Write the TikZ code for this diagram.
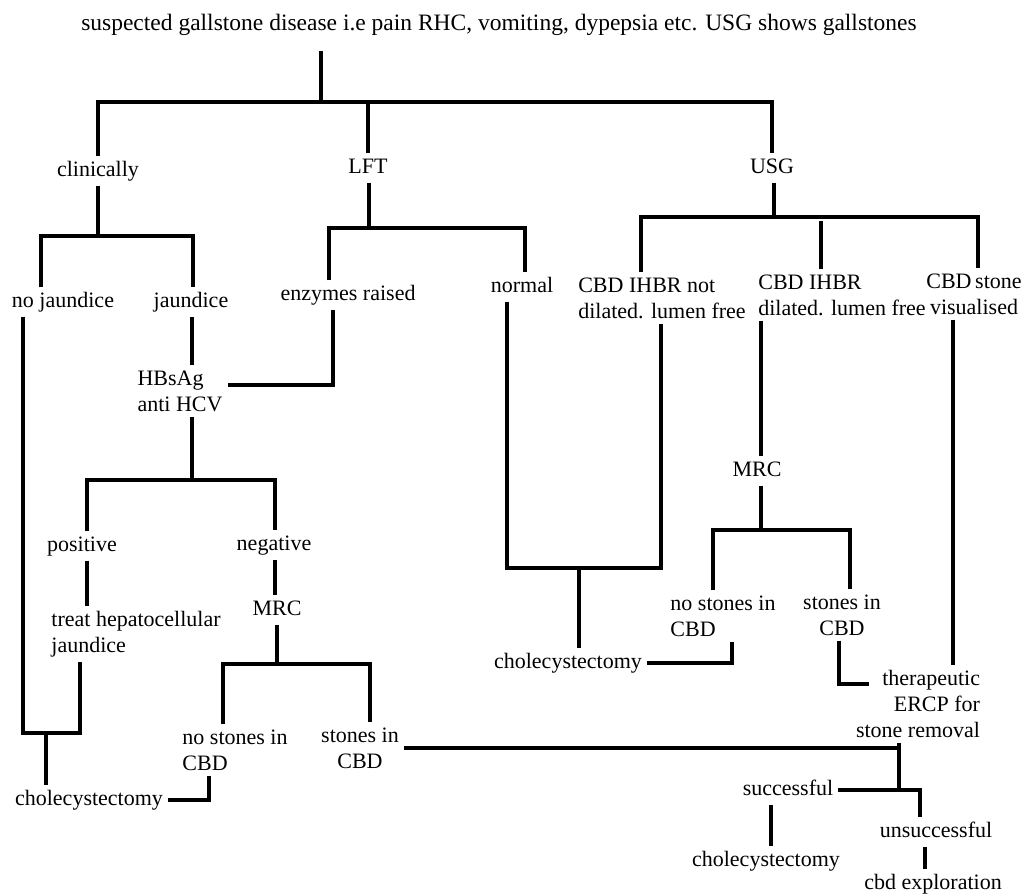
\documentclass[tikz,border=0pt]{standalone}
\usepackage{fontspec}
\setmainfont{Liberation Serif}
\usepackage{tikz}
\usepackage{xcolor}
\tikzset{
    flow-label/.style = {inner sep=5pt, text height=15pt, text depth=4pt, font=\fontsize{22}{26}\selectfont},
    flow-label-multi/.style = {inner sep=5pt, align=left, font=\fontsize{22}{26}\selectfont},
    flow-line/.style = {line width=3.5pt},
}

\begin{document}
\begin{tikzpicture}[x=1pt, y=-1pt]
\useasboundingbox (0,0) rectangle (1035,894);
\node[flow-label, font=\fontsize{23.5}{26}\selectfont] (title) at (499,25) {suspected gallstone disease i.e pain RHC, vomiting, dypepsia etc. USG shows gallstones};
\node[flow-label] (clin) at (98,171) {clinically};
\node[flow-label] (lft) at (368,168) {LFT};
\node[flow-label] (usg) at (772,168) {USG};
\node[flow-label] (nojaun) at (63,302) {no jaundice};
\node[flow-label] (jaun) at (191,302) {jaundice};
\node[flow-label] (enz) at (348,295) {enzymes raised};
\node[flow-label] (normal) at (522,287) {normal};
\node[flow-label-multi] (cbdnd) at (662,298) {CBD IHBR not\\dilated. lumen free};
\node[flow-label-multi] (cbdd) at (842,295) {CBD IHBR\\dilated. lumen free};
\node[flow-label-multi, align=center] (cbdst) at (974,294) {CBD\,stone\\visualised};
\node[flow-label-multi] (hbs) at (180,391) {HBsAg\\anti HCV};
\node[flow-label] (pos) at (82,546) {positive};
\node[flow-label] (neg) at (274,545) {negative};
\node[flow-label] (mrcl) at (277,610) {MRC};
\node[flow-label-multi] (treat) at (136,634) {treat hepatocellular\\jaundice};
\node[flow-label-multi] (nosl) at (235,750) {no stones in\\CBD};
\node[flow-label-multi, align=center] (stl) at (360,748) {stones in\\CBD};
\node[flow-label] (chola) at (89,800) {cholecystectomy};
\node[flow-label] (cholb) at (568,663) {cholecystectomy};
\node[flow-label] (mrcr) at (757,471) {MRC};
\node[flow-label-multi] (nosr) at (723,616) {no stones in\\CBD};
\node[flow-label-multi, align=center] (str) at (842,615) {stones in\\CBD};
\node[flow-label-multi, align=right] (ercp) at (918,704) {therapeutic\\ERCP for\\stone removal};
\node[flow-label] (succ) at (788,790) {successful};
\node[flow-label] (cholc) at (766,861) {cholecystectomy};
\node[flow-label] (unsucc) at (936,832) {unsuccessful};
\node[flow-label] (cbdex) at (933,884) {cbd exploration};

\coordinate (j0) at (321,102);
\coordinate (j1) at (98,236);
\coordinate (j2) at (369,228);
\coordinate (j3) at (774,217);
\coordinate (j4) at (192,480);
\coordinate (j5) at (46,733);
\coordinate (j6) at (277,664);
\coordinate (j7) at (899,790);
\coordinate (j8) at (579,568);
\coordinate (j9) at (761,530);
\coordinate (tj) at ([xshift=-56pt]treat.south);

\draw[flow-line] (j0) -- ++(0,-51);
\draw[flow-line] (clin.north) |- (j0) -| (usg.north);
\draw[flow-line] (lft.north) -- (lft.north |- j0);
\draw[flow-line] (clin.south) -- (j1);
\draw[flow-line] ([xshift=-22pt]nojaun.north) |- (j1) -| ([xshift=2pt]jaun.north);
\draw[flow-line] (lft.south -| j2) -- (j2);
\draw[flow-line] ([xshift=-19pt]enz.north) |- (j2) -| ([xshift=3pt]normal.north);
\draw[flow-line] (usg.south -| j3) -- (j3);
\draw[flow-line] ([xshift=-21pt]cbdnd.north) |- (j3) -| ([xshift=4pt]cbdst.north);
\draw[flow-line] ([xshift=-21pt]cbdd.north) -- ++(0,-48);
\draw[flow-line] (jaun.south -| j4) -- (j4 |- hbs.north);
\draw[flow-line] ([xshift=-15pt]enz.south) |- ([yshift=6pt]hbs.east);
\draw[flow-line] (hbs.south -| j4) -- (j4);
\draw[flow-line] ([xshift=5pt]pos.north) |- (j4) -| ([xshift=1pt]neg.north);
\draw[flow-line] ([xshift=5pt]pos.south) -- ([xshift=5pt]pos.south |- treat.north);
\draw[flow-line] ([xshift=1pt]neg.south) -- ([xshift=1pt]neg.south |- mrcl.north);
\draw[flow-line] ([xshift=-40pt]nojaun.south) |- (tj |- j5) -- (tj);
\draw[flow-line] (j5) -- (j5 |- chola.north);
\draw[flow-line] (mrcl.south) -- (j6);
\draw[flow-line] ([xshift=-12pt]nosl.north) |- (j6) -| ([xshift=10pt]stl.north);
\draw[flow-line] ([xshift=-26pt]nosl.south) |- (chola.east);
\draw[flow-line] (stl.east) -- (stl.east -| j7);
\draw[flow-line] (ercp.south -| j7) -- (j7);
\draw[flow-line] (succ.east) -| ([xshift=-16pt]unsucc.north);
\draw[flow-line] ([xshift=-17pt]succ.south) -- ([xshift=-17pt]succ.south |- cholc.north);
\draw[flow-line] ([xshift=-11pt]unsucc.south) -- ([xshift=-11pt]unsucc.south |- cbdex.north);
\draw[flow-line] ([xshift=-15pt]normal.south) |- (j8) -| ([xshift=-1pt]cbdnd.south);
\draw[flow-line] (j8) -- (j8 |- cholb.north);
\draw[flow-line] ([xshift=-81pt]cbdd.south) -- ([xshift=-81pt]cbdd.south |- mrcr.north);
\draw[flow-line] (mrcr.south -| j9) -- (j9);
\draw[flow-line] ([xshift=-10pt]nosr.north) |- (j9) -| ([xshift=8pt]str.north);
\draw[flow-line] ([xshift=9pt]nosr.south) |- (cholb.east);
\draw[flow-line] ([xshift=-3pt]str.south) |- ([xshift=-116pt,yshift=-19pt]ercp.north east);
\draw[flow-line] ([xshift=-21pt]cbdst.south) -- ([xshift=-21pt]cbdst.south |- ercp.north);
\end{tikzpicture}
\end{document}
